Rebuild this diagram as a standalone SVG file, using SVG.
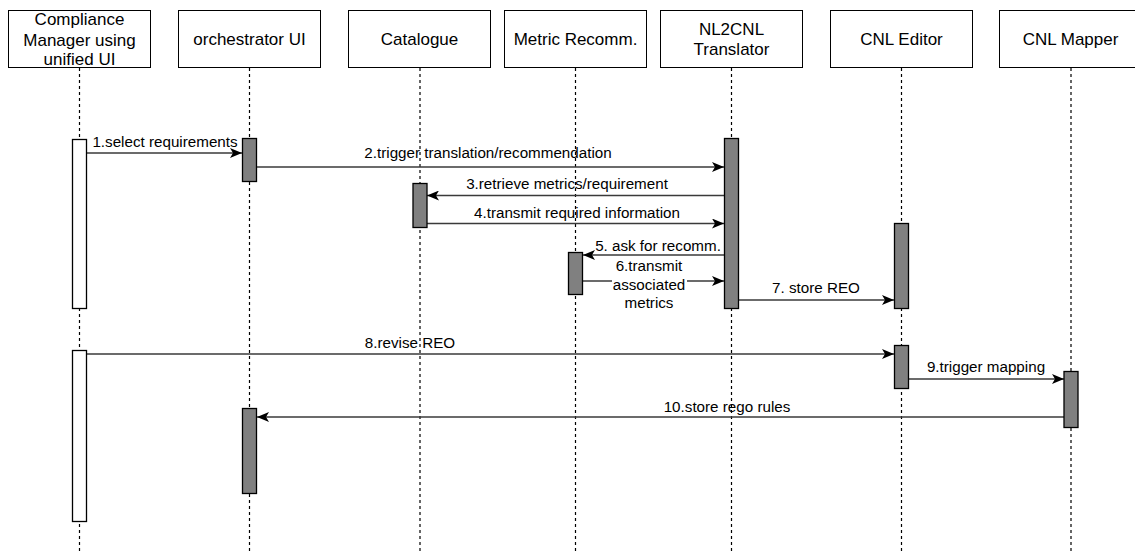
<svg xmlns="http://www.w3.org/2000/svg" width="1135" height="553" viewBox="0 0 1135 553">
<style>
.hdr{fill:#fff;stroke:#000;stroke-width:1}
.ht{font-family:"Liberation Sans",Arial,sans-serif;font-size:17px;fill:#000;text-anchor:middle}
.life{stroke:#000;stroke-width:1.2;stroke-dasharray:3 3;fill:none}
.bar{fill:#808080;stroke:#000;stroke-width:1.3}
.wbar{fill:#fff;stroke:#000;stroke-width:1.3}
.msg{stroke:#3a3a3a;stroke-width:1.4;fill:none;marker-end:url(#arr)}
.mt{font-family:"Liberation Sans",Arial,sans-serif;font-size:15.2px;fill:#000;text-anchor:middle}
</style>
<defs>
<marker id="arr" viewBox="0 0 12 10" refX="12" refY="5" markerWidth="12" markerHeight="10" markerUnits="userSpaceOnUse" orient="auto">
<path d="M0,0 L12,5 L0,10 L3,5 Z" fill="#000"/>
</marker>
</defs>
<rect width="1135" height="553" fill="#fff"/>
<g id="lifelines">
<line class="life" x1="79.5" y1="68" x2="79.5" y2="553"/>
<line class="life" x1="249.5" y1="68" x2="249.5" y2="553"/>
<line class="life" x1="420" y1="68" x2="420" y2="553"/>
<line class="life" x1="575.5" y1="68" x2="575.5" y2="553"/>
<line class="life" x1="731.5" y1="68" x2="731.5" y2="553"/>
<line class="life" x1="901.5" y1="68" x2="901.5" y2="553"/>
<line class="life" x1="1071" y1="68" x2="1071" y2="553"/>
</g>
<g id="n-compliance"><rect class="hdr" x="8.5" y="10.5" width="142" height="57"/><text class="ht" x="79.5" y="25">Compliance</text><text class="ht" x="79.5" y="45.5">Manager using</text><text class="ht" x="79.5" y="65">unified UI</text></g>
<g id="n-orchestrator"><rect class="hdr" x="178.5" y="10.5" width="142" height="57"/><text class="ht" x="249.5" y="45">orchestrator UI</text></g>
<g id="n-catalogue"><rect class="hdr" x="348.5" y="10.5" width="142" height="57"/><text class="ht" x="419.5" y="45">Catalogue</text></g>
<g id="n-metric"><rect class="hdr" x="504.5" y="10.5" width="142" height="57"/><text class="ht" x="575.5" y="45">Metric Recomm.</text></g>
<g id="n-nl2cnl"><rect class="hdr" x="660.5" y="10.5" width="142" height="57"/><text class="ht" x="731.5" y="35">NL2CNL</text><text class="ht" x="731.5" y="55">Translator</text></g>
<g id="n-editor"><rect class="hdr" x="830.5" y="10.5" width="142" height="57"/><text class="ht" x="901.5" y="45">CNL Editor</text></g>
<g id="n-mapper"><rect class="hdr" x="999.5" y="10.5" width="142" height="57"/><text class="ht" x="1070.5" y="45">CNL Mapper</text></g>
<g id="connectors">
<line class="msg" x1="86" y1="153" x2="242" y2="153"/>
<line class="msg" x1="257" y1="167" x2="724" y2="167"/>
<line class="msg" x1="724" y1="195.5" x2="427" y2="195.5"/>
<line class="msg" x1="427" y1="223.5" x2="724" y2="223.5"/>
<line class="msg" x1="724" y1="255" x2="583" y2="255"/>
<line class="msg" x1="583" y1="281" x2="724" y2="281"/>
<line class="msg" x1="739" y1="300" x2="894" y2="300"/>
<line class="msg" x1="86" y1="354" x2="894" y2="354"/>
<line class="msg" x1="909" y1="379" x2="1064" y2="379"/>
<line class="msg" x1="1064" y1="417" x2="257" y2="417"/>
</g>
<g id="activations">
<rect class="wbar" x="72.5" y="139.5" width="14" height="169"/>
<rect class="bar" x="242.5" y="138.5" width="14" height="43"/>
<rect class="bar" x="724.5" y="138.5" width="14" height="170"/>
<rect class="bar" x="413" y="183.5" width="14" height="44"/>
<rect class="bar" x="568.5" y="252.5" width="14" height="42"/>
<rect class="bar" x="894.5" y="223.5" width="14" height="85"/>
<rect class="bar" x="894.5" y="345.5" width="14" height="43"/>
<rect class="bar" x="1064" y="371.5" width="14" height="56"/>
<rect class="wbar" x="72.5" y="350.5" width="14" height="171"/>
<rect class="bar" x="242.5" y="408.5" width="14" height="85"/>
</g>
<g id="labels">
<text class="mt" x="165" y="147">1.select requirements</text>
<text class="mt" x="488" y="158">2.trigger translation/recommendation</text>
<text class="mt" x="567" y="189">3.retrieve metrics/requirement</text>
<text class="mt" x="577" y="218">4.transmit required information</text>
<text class="mt" x="658" y="251">5. ask for recomm.</text>
<rect x="612" y="260" width="75" height="52" fill="#fff"/>
<text class="mt" x="649" y="271">6.transmit</text>
<text class="mt" x="649" y="290">associated</text>
<text class="mt" x="649" y="308">metrics</text>
<text class="mt" x="816" y="293">7. store REO</text>
<text class="mt" x="410" y="348">8.revise REO</text>
<text class="mt" x="986" y="372">9.trigger mapping</text>
<text class="mt" x="727" y="412">10.store rego rules</text>
</g>
</svg>
